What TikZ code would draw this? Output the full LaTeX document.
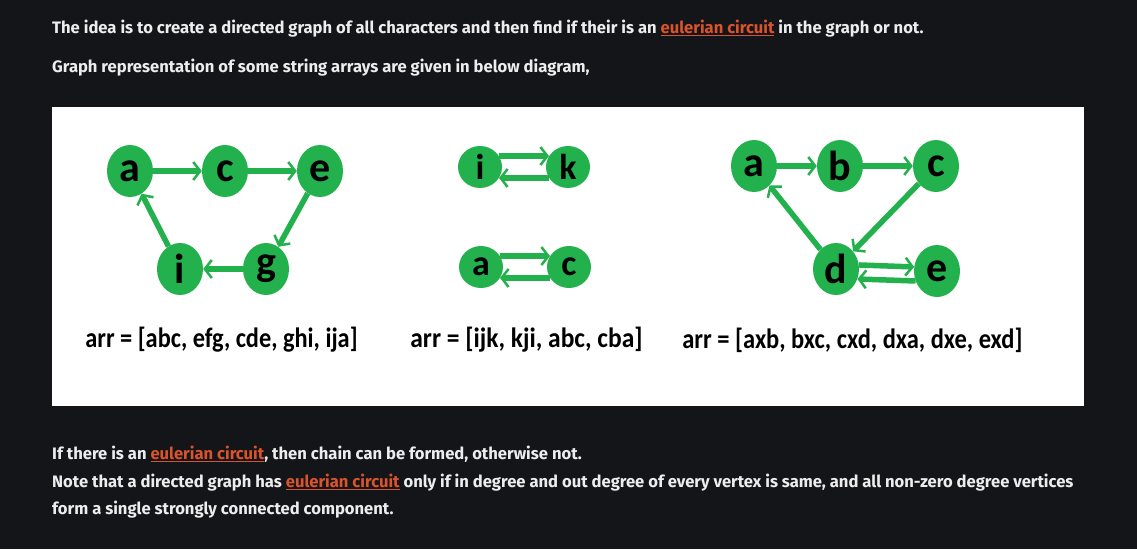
\documentclass[tikz,border=0pt]{standalone}
\usepackage{fontspec}
\usetikzlibrary{arrows.meta,shapes.geometric}
\newfontfamily\bodyfont{Fira Sans}
\newfontfamily\calfont{Carlito}
\definecolor{bg}{HTML}{141519}
\definecolor{fg}{HTML}{EDEDED}
\definecolor{linkc}{HTML}{D9532B}
\definecolor{gnode}{HTML}{22B14C}
\newcommand{\eulc}{\textcolor{linkc}{\setbox0\hbox{eulerian circuit}\rlap{\rule[-3.2pt]{\wd0}{0.8pt}}\box0}}
\begin{document}
\begin{tikzpicture}[x=1pt,y=-1pt,
  body/.style={anchor=base west, inner sep=0pt, text=fg, font=\bodyfont\bfseries\fontsize{16.6}{19}\selectfont},
  vbig/.style={ellipse, fill=gnode, minimum width=46pt, minimum height=52pt, inner sep=0pt, font=\calfont\bfseries\fontsize{42}{44}\selectfont},
  vsmall/.style={ellipse, fill=gnode, minimum width=44pt, minimum height=42pt, inner sep=0pt, font=\calfont\bfseries\fontsize{36}{38}\selectfont},
  edge/.style={draw=gnode, line width=5.5pt, -{Straight Barb[length=7pt,width=18pt,line width=2.5pt 0]}},
  arrlabel/.style={inner sep=0pt, font=\calfont\bfseries\fontsize{28}{30}\selectfont, text=black},
]
\fill[bg] (0,0) rectangle (1137,549);
\useasboundingbox (0,0) rectangle (1137,549);
\fill[white] (52,107) rectangle (1084,406);

% text
\node[body] (t1) at (52,33) {The idea is to create a directed graph of all characters and then find if their is an \eulc{} in the graph or not.};
\node[body] (t2) at (52,72) {Graph representation of some string arrays are given in below diagram,};
\node[body] (t3) at (52,459) {If there is an \eulc, then chain can be formed, otherwise not.};
\node[body] (t4) at (52,487) {Note that a directed graph has \eulc{} only if in degree and out degree of every vertex is same, and all non-zero degree vertices};
\node[body] (t5) at (52,514) {form a single strongly connected component.};

% graph 1
\node[vbig] (a1) at (130,171) {a};
\node[vbig] (c1) at (225,171) {c};
\node[vbig] (e1) at (320,171) {e};
\node[vbig] (i1) at (180,269) {i};
\node[vbig] (g1) at (266,269) {g};
\draw[edge] (a1) -- (c1);
\draw[edge] (c1) -- (e1);
\draw[edge] (e1) -- (g1);
\draw[edge] (g1) -- (i1);
\draw[edge] (i1) -- (a1);
\node[arrlabel] (l1) at (221.5,340) {\scalebox{0.87}[1]{arr = [abc, efg, cde, ghi, ija]}};

% graph 2
\node[vsmall] (i2) at (480,167) {i};
\node[vsmall] (k2) at (568,167) {k};
\node[vsmall] (a2) at (481,267) {a};
\node[vsmall] (c2) at (569,267) {c};
\draw[edge] (i2.30) -- (k2.150);
\draw[edge] (k2.-150) -- (i2.-30);
\draw[edge] (a2.30) -- (c2.150);
\draw[edge] (c2.-150) -- (a2.-30);
\node[arrlabel] (l2) at (526.5,340) {\scalebox{0.91}[1]{arr = [ijk, kji, abc, cba]}};

% graph 3
\node[vbig] (a3) at (754,166) {a};
\node[vbig] (b3) at (840,166) {b};
\node[vbig] (c3) at (936,166) {c};
\node[vbig] (d3) at (836,269) {d};
\node[vbig] (e3) at (937,271) {e};
\draw[edge] (a3) -- (b3);
\draw[edge] (b3) -- (c3);
\draw[edge] (c3) -- (d3);
\draw[edge] (d3) -- (a3);
\draw[edge] (d3.10) -- (e3.170);
\draw[edge] (e3.-155) -- (d3.-25);
\node[arrlabel] (l3) at (852.5,340) {\scalebox{0.875}[1]{arr = [axb, bxc, cxd, dxa, dxe, exd]}};
\end{tikzpicture}
\end{document}
